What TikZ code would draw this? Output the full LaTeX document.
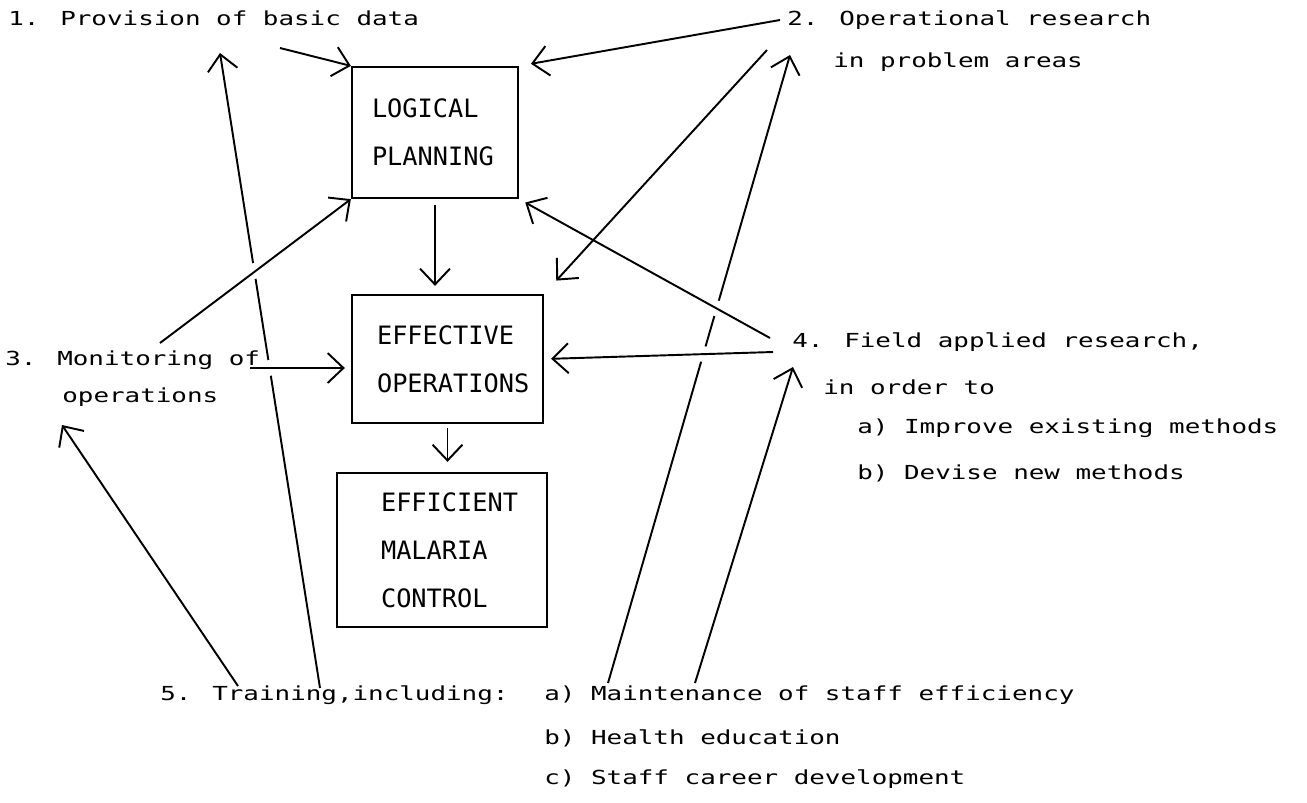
\documentclass[tikz,border=0pt]{standalone}
\usepackage{fontspec}
\newfontfamily\tw[FakeStretch=1.34]{DejaVu Sans Mono}
\newfontfamily\bx{DejaVu Sans Mono}
\usetikzlibrary{arrows.meta}
\tikzset{
  txt/.style={font=\tw\fontsize{11}{16}\selectfont, anchor=west, inner sep=0pt},
  box/.style={draw, line width=1.3pt, align=left, font=\bx\fontsize{14.4}{27.2}\selectfont, inner sep=0pt},
  conn/.style={line width=1.1pt, -{Straight Barb[length=9pt,width=17pt,line width=1.1pt]}},
  gap/.style={fill=white},
}
\begin{document}
\begin{tikzpicture}[x=0.02cm,y=-0.02cm]
\useasboundingbox (0,0) rectangle (1307,802);
% boxes
\node[box, minimum width=3.32cm, minimum height=2.62cm, text width=2.52cm] (L) at (435,132.5) {LOGICAL\\PLANNING};
\node[box, minimum width=3.82cm, minimum height=2.56cm, text width=2.82cm] (E) at (447.5,359) {EFFECTIVE\\OPERATIONS};
\node[box, minimum width=4.2cm, minimum height=3.08cm, text width=2.44cm] (M) at (442,550) {EFFICIENT\\MALARIA\\CONTROL};
% connector end points
\coordinate (c1) at (280,48);
\coordinate (c2) at (780,20);
\coordinate (c2b) at (767,50);
\coordinate (c3) at (160,343);
\coordinate (c3b) at (250,368);
\coordinate (c3h) at (62,425);
\coordinate (c4) at (770,338);
\coordinate (c4b) at (773,352);
\coordinate (c4h) at (793,367);
\coordinate (c1h) at (220,53);
\coordinate (c2h) at (790,55);
\coordinate (c5a) at (238,686);
\coordinate (c5b) at (320,688);
\coordinate (c5c) at (608,683);
\coordinate (c5d) at (695,683);
% lines that pass under others
\draw[conn] (c5a) -- (c3h);
\draw[conn] (c5b) -- (c1h);
\draw[conn] (c5c) -- (c2h);
\draw[conn] (c5d) -- (c4h);
% gaps where they are crossed
\fill[gap] (269,368) circle (8);
\fill[gap] (254,271) circle (8);
\fill[gap] (717,308.4) circle (8);
\fill[gap] (703.6,354.1) circle (8);
% texts
\node[txt] (t1) at (8,18) {1. Provision of basic data};
\node[txt] (t2a) at (787,20) {2. Operational research};
\node[txt] (t2b) at (833,62) {in problem areas};
\node[txt] (t3a) at (5,360) {3. Monitoring of};
\node[txt] (t3b) at (62,397) {operations};
\node[txt] (t4a) at (792,342) {4. Field applied research,};
\node[txt] (t4b) at (823,387) {in order to};
\node[txt] (t4c) at (857,428) {a) Improve existing methods};
\node[txt] (t4d) at (857,473) {b) Devise new methods};
\node[txt] (t5) at (160,695) {5. Training,including:};
\node[txt] (t5a) at (544,695) {a) Maintenance of staff efficiency};
\node[txt] (t5b) at (544,738) {b) Health education};
\node[txt] (t5c) at (544,779) {c) Staff career development};
% connectors
\draw[conn] (c1) -- (L.north west);
\draw[conn, shorten >=0.24cm] (c2) -- (L.north east);
\draw[conn] (c3) -- (L.south west);
\draw[conn, shorten >=0.14cm] (c4) -- (L.south east);
\draw[conn, shorten <=0.12cm, shorten >=0.16cm] (L.south) -- (L.south |- E.north);
\draw[conn, shorten >=0.36cm] (c2b) -- (E.north east);
\draw[conn, shorten >=0.14cm] (c4b) -- (E.east);
\draw[conn, shorten >=0.12cm] (c3b) -- (c3b -| E.west);
\draw[conn, shorten <=0.08cm, shorten >=0.2cm] (E.south) -- (E.south |- M.north);
\end{tikzpicture}
\end{document}
